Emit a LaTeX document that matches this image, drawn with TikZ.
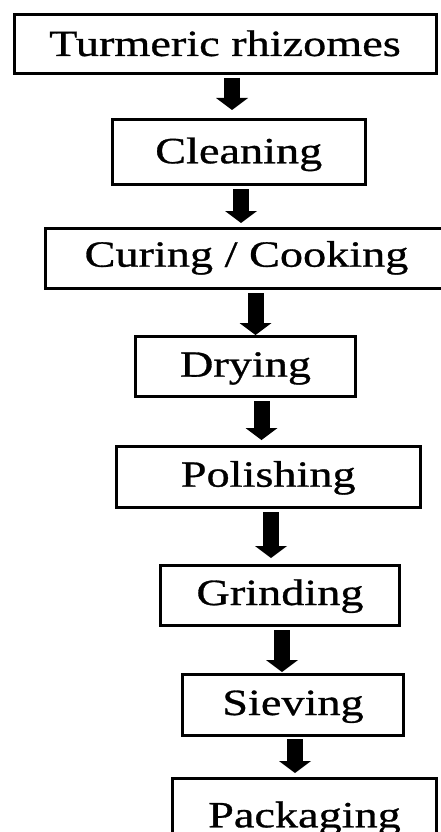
\documentclass[tikz,border=0pt]{standalone}
\usepackage{fontspec}
\setmainfont{Liberation Serif}[FakeStretch=1.25,FakeBold=0.8]
\usetikzlibrary{arrows.meta}
\begin{document}
\begin{tikzpicture}[x=1pt,y=-1pt,
  stepbox/.style={draw=black, line width=3pt, inner sep=0pt, fill=white,
    font=\fontsize{37}{40}\selectfont, text height=30pt},
  flowarrow/.style={line width=16pt, draw=black,
    -{Triangle[width=32pt,length=12pt,line width=0pt]}}]
\useasboundingbox (0,0) rectangle (440,832);
\node[stepbox, minimum width=422pt, minimum height=59.5pt, text depth=6.5pt] (b1) at (225,44.25) {Turmeric rhizomes};
\node[stepbox, minimum width=253.5pt, minimum height=64.5pt, text depth=7pt] (b2) at (238.75,151.75) {Cleaning};
\node[stepbox, minimum width=402pt, minimum height=60.8pt, text depth=13.4pt] (b3) at (246.5,258.4) {Curing / Cooking};
\node[stepbox, minimum width=220pt, minimum height=60pt, text depth=8.6pt] (b4) at (245.5,366) {Drying};
\node[stepbox, minimum width=304.5pt, minimum height=61pt, text depth=9.6pt] (b5) at (268.25,476.5) {Polishing};
\node[stepbox, minimum width=239pt, minimum height=60.5pt, text depth=10.5pt] (b6) at (280,595.25) {Grinding};
\node[stepbox, minimum width=221pt, minimum height=61pt, text depth=10pt] (b7) at (293,705) {Sieving};
\node[stepbox, minimum width=264pt, minimum height=69pt, text depth=0.4pt] (b8) at (304.5,812.5) {Packaging};
% arrow end points
\coordinate (a1s) at (232,78);    \coordinate (a1e) at (232,110);
\coordinate (a2s) at (241,189);   \coordinate (a2e) at (241,223);
\coordinate (a3s) at (255.5,293); \coordinate (a3e) at (255.5,335);
\coordinate (a4s) at (261.5,401); \coordinate (a4e) at (261.5,440);
\coordinate (a5s) at (271,512);   \coordinate (a5e) at (271,558);
\coordinate (a6s) at (282,630);   \coordinate (a6e) at (282,672);
\coordinate (a7s) at (295,739);   \coordinate (a7e) at (295,773);
\foreach \i in {1,...,7} {\draw[flowarrow] (a\i s) -- (a\i e);}
\end{tikzpicture}
\end{document}
